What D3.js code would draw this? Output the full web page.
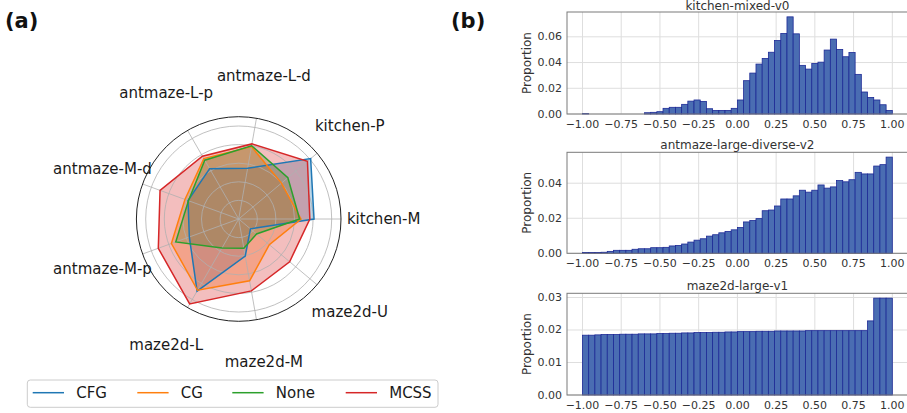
<!DOCTYPE html>
<html>
<head>
<meta charset="utf-8">
<script src="https://cdn.jsdelivr.net/npm/d3@7"></script>
<style>
  html, body { margin: 0; padding: 0; background: #fff; }
  svg { display: block; font-family: "DejaVu Sans", sans-serif; }
</style>
</head>
<body>
<svg id="chart" width="907" height="413"></svg>
<script>
// ---------------- data ----------------
const radarCategories = ["kitchen-M", "kitchen-P", "antmaze-L-d", "antmaze-L-p", "antmaze-M-d",
                         "antmaze-M-p", "maze2d-L", "maze2d-M", "maze2d-U"];
const seriesNames = ["CFG", "CG", "None", "MCSS"];
const seriesColors = ["#1f77b4", "#ff7f0e", "#2ca02c", "#d62728"];
const cfgValues  = [0.81, 1.01, 0.555, 0.625, 0.58, 0.565, 0.895, 0.405, 0.165];
const cgValues   = [0.67, 0.60, 0.79, 0.75, 0.615, 0.77, 0.885, 0.675, 0.43];
const noneValues = [0.655, 0.69, 0.80, 0.73, 0.575, 0.72, 0.36, 0.32, 0.25];
const mcssValues = [0.765, 0.965, 0.82, 0.78, 0.90, 0.92, 1.055, 0.785, 0.715];
const radarGridTicks = [0.2, 0.4, 0.6, 0.8, 1.0];

const histTitles = ["kitchen-mixed-v0", "antmaze-large-diverse-v2", "maze2d-large-v1"];
const binEdgesStart = -1.0, binWidth = 0.04;
const kitchenBins = [0.0003,0,0,0,0,0,0,0,0,0,
  0.001,0.0013,0.0018,0.0044,0.0052,0.0052,0.0075,0.010,0.0109,0.0098,
  0.0041,0.0028,0.0028,0.0028,0.0044,
  0.0109,0.0259,0.0318,0.0388,0.0432,
  0.048,0.0571,0.0626,0.0755,0.0623,
  0.0378,0.0349,0.0393,0.0403,0.0497,
  0.0582,0.0502,0.0445,0.0478,0.0308,
  0.0171,0.0129,0.0109,0.0072,0.0028];
const antmazeBins = [0.0004,0.0004,0.0004,0.0006,0.0011,0.0017,0.0017,0.0017,0.0023,0.0026,
  0.0026,0.0032,0.0032,0.0034,0.0042,0.0045,0.0053,0.0064,0.0075,0.0083,
  0.0098,0.0106,0.0117,0.0125,0.0134,
  0.0147,0.0179,0.0187,0.0198,0.0243,
  0.0247,0.027,0.031,0.031,0.0328,
  0.036,0.0349,0.036,0.039,0.0372,
  0.0379,0.0415,0.0408,0.042,0.0462,
  0.0453,0.0453,0.0498,0.0506,0.0549];
const maze2dBins = [0.0184,0.0184,0.0185,0.0186,0.0186,0.0186,0.0187,0.0187,0.0187,0.0188,
  0.0188,0.0188,0.0189,0.0189,0.0190,0.0190,0.0191,0.0191,0.0192,0.0192,
  0.0192,0.0193,0.0193,0.0194,0.0194,
  0.0195,0.0195,0.0195,0.0196,0.0196,
  0.0196,0.0197,0.0197,0.0197,0.0197,
  0.0197,0.0198,0.0198,0.0198,0.0198,
  0.0198,0.0198,0.0198,0.0198,0.0198,
  0.0198,0.0228,0.0298,0.0298,0.0298];
const xTicks = [-1.0, -0.75, -0.5, -0.25, 0.0, 0.25, 0.5, 0.75, 1.0];
const yTicksKitchen = [0, 0.02, 0.04, 0.06];
const yTicksAntmaze = [0, 0.02, 0.04];
const yTicksMaze2d = [0, 0.01, 0.02, 0.03];

// ---------------- drawing ----------------
const svg = d3.select("#chart");

// panel labels
svg.append("text").attr("x", 5).attr("y", 28).attr("font-size", 21).attr("font-weight", "bold")
  .attr("fill", "#111").text("(a)");
svg.append("text").attr("x", 451).attr("y", 28).attr("font-size", 21).attr("font-weight", "bold")
  .attr("fill", "#111").text("(b)");

// ---- radar ----
const cx = 238.7, cy = 219;
const rScale = d3.scaleLinear().domain([0, 1.1]).range([0, 102.3]);
const nCat = radarCategories.length;
const angleOf = i => i * 2 * Math.PI / nCat; // counterclockwise from east
const pt = (i, v) => [cx + rScale(v) * Math.cos(angleOf(i)), cy - rScale(v) * Math.sin(angleOf(i))];

const radar = svg.append("g");
const allSeries = [cfgValues, cgValues, noneValues, mcssValues];
const lineGen = d3.line().curve(d3.curveLinearClosed);

// fills
allSeries.forEach((vals, s) => {
  radar.append("path")
    .attr("d", lineGen(vals.map((v, i) => pt(i, v))))
    .attr("fill", seriesColors[s]).attr("fill-opacity", 0.3).attr("stroke", "none");
});
// grid circles
radarGridTicks.forEach(t => {
  radar.append("circle").attr("cx", cx).attr("cy", cy).attr("r", rScale(t))
    .attr("fill", "none").attr("stroke", "#b0b0b0").attr("stroke-width", 0.8);
});
// spokes
radarCategories.forEach((c, i) => {
  const [x2, y2] = pt(i, 1.1);
  radar.append("line").attr("x1", cx).attr("y1", cy).attr("x2", x2).attr("y2", y2)
    .attr("stroke", "#b0b0b0").attr("stroke-width", 0.8);
});
// lines
allSeries.forEach((vals, s) => {
  radar.append("path")
    .attr("d", lineGen(vals.map((v, i) => pt(i, v))))
    .attr("fill", "none").attr("stroke", seriesColors[s]).attr("stroke-width", 1.5)
    .attr("stroke-linejoin", "miter");
});
// outer spine
radar.append("circle").attr("cx", cx).attr("cy", cy).attr("r", rScale(1.1))
  .attr("fill", "none").attr("stroke", "#222").attr("stroke-width", 1);
// category labels
const labelR = 145;
radarCategories.forEach((c, i) => {
  radar.append("text")
    .attr("x", cx + labelR * Math.cos(angleOf(i)))
    .attr("y", cy - labelR * Math.sin(angleOf(i)))
    .attr("text-anchor", "middle").attr("dominant-baseline", "central")
    .attr("font-size", 15).attr("fill", "#1a1a1a").text(c);
});

// legend
const leg = svg.append("g");
leg.append("rect").attr("x", 27.3).attr("y", 380).attr("width", 410.7).attr("height", 27.3)
  .attr("rx", 3).attr("fill", "#fff").attr("stroke", "#cccccc").attr("stroke-width", 1);
const legLineX = [32.7, 137.3, 232.3, 345.7];
seriesNames.forEach((n, s) => {
  leg.append("line").attr("x1", legLineX[s]).attr("x2", legLineX[s] + 31.3)
    .attr("y1", 392.7).attr("y2", 392.7).attr("stroke", seriesColors[s]).attr("stroke-width", 1.5);
  leg.append("text").attr("x", legLineX[s] + 43.5).attr("y", 392.7)
    .attr("dominant-baseline", "central").attr("font-size", 15).attr("fill", "#1a1a1a").text(n);
});

// ---- histograms ----
const xScale = d3.scaleLinear().domain([-1.1, 1.1]).range([567, 907.8]);
const panels = [
  { bins: kitchenBins, title: histTitles[0], top: 12, bottom: 114, ticks: yTicksKitchen, fmt: ".2f", tOff: 2.5 },
  { bins: antmazeBins, title: histTitles[1], top: 152.3, bottom: 253.3, ticks: yTicksAntmaze, fmt: ".2f", tOff: 3.5 },
  { bins: maze2dBins, title: histTitles[2], top: 293.3, bottom: 395, ticks: yTicksMaze2d, fmt: ".2f", tOff: 3.5 }
];

panels.forEach(p => {
  const ymax = d3.max(p.bins) * 1.05;
  const yScale = d3.scaleLinear().domain([0, ymax]).range([p.bottom, p.top]);
  const g = svg.append("g");
  const x0 = xScale.range()[0], x1 = xScale.range()[1];

  // grid
  xTicks.forEach(t => {
    g.append("line").attr("x1", xScale(t)).attr("x2", xScale(t)).attr("y1", p.top).attr("y2", p.bottom)
      .attr("stroke", "#dedede").attr("stroke-width", 1);
  });
  p.ticks.forEach(t => {
    g.append("line").attr("x1", x0).attr("x2", x1).attr("y1", yScale(t)).attr("y2", yScale(t))
      .attr("stroke", "#dedede").attr("stroke-width", 1);
  });

  // bars
  g.selectAll("rect.bar").data(p.bins).enter().append("rect")
    .attr("class", "bar")
    .attr("x", (d, i) => xScale(binEdgesStart + i * binWidth))
    .attr("width", (d, i) => xScale(binEdgesStart + (i + 1) * binWidth) - xScale(binEdgesStart + i * binWidth))
    .attr("y", d => yScale(d))
    .attr("height", d => p.bottom - yScale(d))
    .attr("fill", "#4a6db2")
    .attr("stroke", "#1d2a96").attr("stroke-width", 0.8);

  // frame
  g.append("rect").attr("x", x0).attr("y", p.top).attr("width", x1 - x0).attr("height", p.bottom - p.top)
    .attr("fill", "none").attr("stroke", "#7a7a7a").attr("stroke-width", 1);

  // x tick labels
  const fx = d3.format(".2f");
  xTicks.forEach(t => {
    g.append("text").attr("x", xScale(t)).attr("y", p.bottom + 10.5).attr("text-anchor", "middle")
      .attr("dominant-baseline", "central").attr("font-size", 11).attr("fill", "#333").text(fx(t));
  });
  // y tick labels
  const fy = d3.format(p.fmt);
  p.ticks.forEach(t => {
    g.append("text").attr("x", x0 - 5).attr("y", yScale(t)).attr("text-anchor", "end")
      .attr("dominant-baseline", "central").attr("font-size", 11).attr("fill", "#333").text(fy(t));
  });
  // y label
  const ym = (p.top + p.bottom) / 2;
  g.append("text").attr("transform", `translate(526.7,${ym}) rotate(-90)`)
    .attr("text-anchor", "middle").attr("dominant-baseline", "central")
    .attr("font-size", 12).attr("fill", "#333").text("Proportion");
  // title
  g.append("text").attr("x", (x0 + x1) / 2).attr("y", p.top - p.tOff).attr("text-anchor", "middle")
    .attr("font-size", 12).attr("fill", "#333").text(p.title);
});
</script>
</body>
</html>
